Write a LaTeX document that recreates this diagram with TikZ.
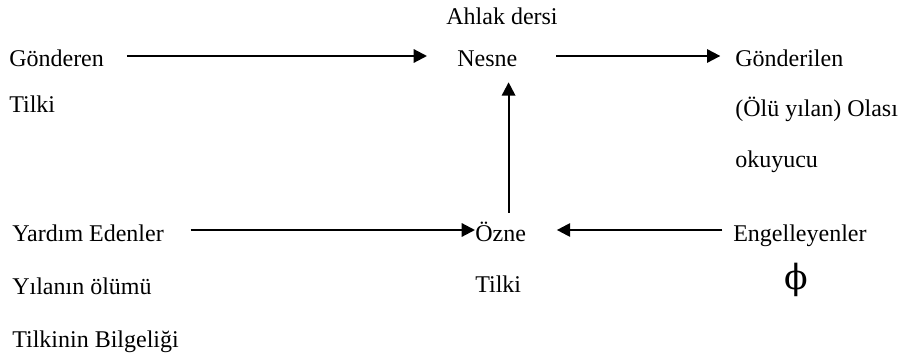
\documentclass[tikz,border=0pt]{standalone}
\usepackage{fontspec}
\setmainfont{Liberation Serif}
\newfontfamily\simge{DejaVu Serif}
\usetikzlibrary{arrows.meta}
\tikzstyle{word}=[inner sep=0pt, anchor=base west, text height=16.5pt, text depth=0pt, font=\fontsize{18}{21}\selectfont]
\tikzstyle{link}=[draw, line width=1.6pt, -{Triangle[length=10pt,width=10pt]}]

\begin{document}
\begin{tikzpicture}[x=0.75pt, y=-0.75pt]
    \useasboundingbox (0,0) rectangle (906,356);

    % actants
    \foreach \pos/\name/\txt in {
                            {(9,67)/gonderen/Gönderen},
                            {(9,113)/tilkiA/Tilki},
                            {(457,67)/nesne/Nesne},
                            {(735,67)/gonderilen/Gönderilen},
                            {(735,117)/olu/{(Ölü yılan) Olası}},
                            {(735,168)/okuyucu/okuyucu},
                            {(12,241)/yardim/Yardım Edenler},
                            {(12,294)/yilan/Yılanın ölümü},
                            {(12,347)/bilgelik/Tilkinin Bilgeliği},
                            {(475,241)/ozne/Özne},
                            {(475,292)/tilkiB/Tilki},
                            {(733,241)/engel/Engelleyenler}}
        \node[word] (\name) at \pos {\txt};

    \node[word, anchor=base] (ahlak) at (502,25) {Ahlak dersi};
    \node[inner sep=0pt, font=\simge\fontsize{26}{28}\selectfont] (bos) at (796,280) {ϕ};

    % arrows between actants
    \draw[link, shorten <=17pt, shorten >=22.5pt] (gonderen) -- (nesne);
    \draw[link, shorten <=29pt, shorten >=11pt] (nesne) -- (gonderilen);
    \draw[link, shorten <=20pt] (yardim) -- (ozne);
    \draw[link, shorten <=8pt, shorten >=23pt] (engel) -- (ozne);
    \coordinate (dik) at ([xshift=6pt]ozne.north);
    \draw[link, shorten <=4.5pt, shorten >=11.25pt] (dik) -- (dik |- nesne.south);

\end{tikzpicture}
\end{document}
